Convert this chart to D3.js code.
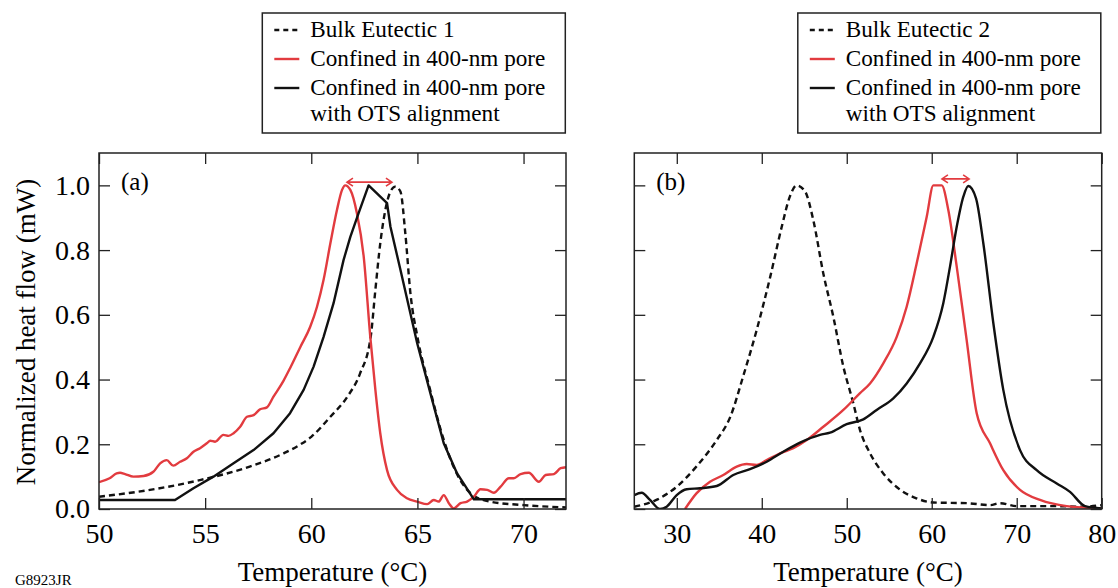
<!DOCTYPE html>
<html>
<head>
<meta charset="utf-8">
<script src="https://cdn.jsdelivr.net/npm/d3@7"></script>
<style>
  body { margin: 0; background: #fff; }
  svg text { font-family: "Times New Roman", Times, "Liberation Serif", "Nimbus Roman", "DejaVu Serif", serif; }
</style>
</head>
<body>
<svg id="chart" width="1118" height="588"></svg>
<script>
// ---- data: [temperature °C, normalized heat flow] ----
const bulkA = [[50,0.038],[52.4,0.059],[54.8,0.09],[57.1,0.131],[58.7,0.172],[59.5,0.2],[60,0.223],[60.9,0.285],
  [61.7,0.347],[62.3,0.419],[62.8,0.532],[63.02,0.677],[63.25,0.821],[63.49,0.924],[63.73,0.981],[63.96,0.996],
  [64.2,0.981],[64.43,0.852],[64.67,0.667],[65,0.532],[65.6,0.368],[66.1,0.244],[66.7,0.131],[67.5,0.049],
  [68.4,0.023],[70,0.012],[72,0.005]];
const poreA = [[50,0.083],[50.5,0.095],[50.83,0.11],[50.99,0.112],[51.23,0.108],[51.62,0.1],[52.1,0.102],[52.56,0.115],
  [52.88,0.141],[53.19,0.151],[53.5,0.134],[53.82,0.146],[54.14,0.157],[54.45,0.177],[54.76,0.188],[55.08,0.203],
  [55.24,0.211],[55.47,0.208],[55.86,0.229],[56.1,0.226],[56.34,0.234],[56.65,0.254],[56.97,0.285],[57.28,0.29],
  [57.59,0.308],[57.91,0.314],[58.22,0.347],[58.69,0.396],[59,0.435],[59.48,0.5],[59.95,0.563],[60.27,0.625],
  [60.58,0.708],[60.9,0.821],[61.21,0.924],[61.45,0.986],[61.6,1.0],[61.84,0.986],[62.15,0.914],[62.47,0.78],
  [62.78,0.532],[63.02,0.368],[63.25,0.234],[63.57,0.12],[64.04,0.059],[64.51,0.033],[64.99,0.023],[65.46,0.015],
  [65.77,0.028],[66,0.023],[66.24,0.043],[66.48,0.018],[66.71,0.002],[67.03,0.018],[67.34,0.023],[67.66,0.038],
  [67.97,0.061],[68.29,0.059],[68.6,0.05],[68.92,0.069],[69.31,0.095],[69.54,0.095],[69.86,0.108],[70.25,0.112],
  [70.72,0.084],[71.04,0.105],[71.43,0.108],[71.75,0.126],[72,0.129]];
const otsA = [[50,0.028],[53.58,0.028],[54.45,0.064],[55.39,0.1],[56.34,0.141],[57.28,0.182],[58.22,0.234],[59,0.296],
  [59.64,0.368],[60.11,0.44],[60.58,0.532],[61.05,0.636],[61.52,0.769],[61.84,0.841],[62.23,0.914],[62.7,1.0],
  [63.57,0.945],[63.73,0.872],[64.2,0.739],[64.99,0.512],[65.61,0.358],[66.24,0.203],[66.87,0.11],[67.66,0.03],[72,0.03]];

const bulkB = [[25,0.007],[27.6,0.028],[30,0.069],[32.3,0.131],[34.7,0.213],[36.3,0.285],[37.8,0.409],[39.4,0.553],
  [41,0.718],[42.35,0.872],[43.3,0.965],[44.1,1.0],[45.1,0.981],[46.06,0.893],[47.24,0.728],[48.42,0.594],[49.6,0.44],
  [50.77,0.327],[51.56,0.244],[52.74,0.172],[54.3,0.11],[56.3,0.059],[58.2,0.033],[60.2,0.02],[64.1,0.018],
  [66.9,0.012],[68,0.018],[70,0.009],[73.9,0.009],[77.8,0.007],[80,0.012]];
const poreB = [[30.97,0],[32.34,0.049],[33.91,0.084],[35.47,0.105],[37.05,0.131],[38.23,0.139],[39.4,0.136],[40.58,0.151],
  [42.15,0.172],[43.71,0.188],[45.29,0.213],[47.24,0.254],[49.6,0.306],[51.56,0.358],[52.74,0.388],[54.3,0.45],
  [55.88,0.532],[57.05,0.625],[58.23,0.759],[59.41,0.903],[60.19,1.0],[61.17,1.0],[61.95,0.924],[62.94,0.749],
  [64.11,0.522],[65.29,0.296],[66.86,0.203],[68.42,0.12],[70.39,0.059],[72.74,0.028],[75.88,0.009],[80,0.002]];
const otsB = [[25,0.043],[25.87,0.05],[26.85,0.028],[28.02,0],[28.81,0.007],[29.99,0.043],[31.17,0.061],[32.73,0.064],
  [34.7,0.071],[36.65,0.105],[38.61,0.123],[40.58,0.146],[42.53,0.177],[44.5,0.205],[46.85,0.229],[48.03,0.236],
  [49.99,0.262],[51.95,0.277],[53.52,0.306],[55.48,0.342],[57.05,0.388],[58.62,0.45],[60.19,0.532],[61.36,0.636],
  [62.15,0.749],[62.94,0.872],[63.72,0.965],[64.3,0.998],[65.21,0.96],[66.07,0.821],[67.25,0.574],[68.42,0.368],
  [70.39,0.182],[72.35,0.12],[74.71,0.079],[76.27,0.053],[78.03,0.009],[80,0.002]];

// peak-shift arrows [fromT, toT, level]
const arrowA = [61.68, 63.8, 1.01];
const arrowB = [61.2, 64.4, 1.02];

const xTicksA = [50, 55, 60, 65, 70];
const xTicksB = [30, 40, 50, 60, 70, 80];
const yTicks = [0, 0.2, 0.4, 0.6, 0.8, 1.0];
// each legend entry may wrap onto a second line
const legendA = [["Bulk Eutectic 1"], ["Confined in 400-nm pore"], ["Confined in 400-nm pore", "with OTS alignment"]];
const legendB = [["Bulk Eutectic 2"], ["Confined in 400-nm pore"], ["Confined in 400-nm pore", "with OTS alignment"]];

const RED = "#e23b3f";
const svg = d3.select("#chart");
const plotTop = 153, plotBottom = 509;

function panel(id, xDomain, xRange, xTicks, showY, series, arrow, tag) {
  const x = d3.scaleLinear().domain(xDomain).range(xRange);
  const y = d3.scaleLinear().domain([0, 1.1]).range([plotBottom, plotTop]);
  const g = svg.append("g");

  g.append("clipPath").attr("id", id)
    .append("rect").attr("x", xRange[0]).attr("y", plotTop)
    .attr("width", xRange[1] - xRange[0]).attr("height", plotBottom - plotTop);

  series.forEach(s => {
    const line = d3.line().x(d => x(d[0])).y(d => y(d[1]))
      .curve(s.sharp ? d3.curveLinear : d3.curveMonotoneX);
    g.append("path").datum(s.data)
      .attr("clip-path", `url(#${id})`)
      .attr("d", line)
      .attr("fill", "none")
      .attr("stroke", s.color)
      .attr("stroke-width", 2.4)
      .attr("stroke-linejoin", "round")
      .attr("stroke-dasharray", s.dash ? "6,4" : null);
  });

  // inward ticks on all four sides
  g.append("g").attr("transform", `translate(0,${plotBottom})`)
    .call(d3.axisBottom(x).tickValues(xTicks).tickSize(-11).tickPadding(14));
  g.append("g").attr("transform", `translate(0,${plotTop})`)
    .call(d3.axisTop(x).tickValues(xTicks).tickSize(-11).tickFormat(""));
  g.append("g").attr("transform", `translate(${xRange[0]},0)`)
    .call(d3.axisLeft(y).tickValues(yTicks).tickSize(-11).tickPadding(9)
      .tickFormat(showY ? d3.format(".1f") : ""));
  g.append("g").attr("transform", `translate(${xRange[1]},0)`)
    .call(d3.axisRight(y).tickValues(yTicks).tickSize(-11).tickFormat(""));
  g.selectAll(".domain").remove();
  g.selectAll("g").attr("font-family", null);
  g.selectAll(".tick line").attr("stroke", "#222").attr("stroke-width", 1.3);
  g.selectAll(".tick text").attr("font-size", 28).attr("fill", "#000");

  g.append("rect").attr("x", xRange[0]).attr("y", plotTop)
    .attr("width", xRange[1] - xRange[0]).attr("height", plotBottom - plotTop)
    .attr("fill", "none").attr("stroke", "#222").attr("stroke-width", 1.5);

  g.append("text").attr("x", xRange[0] + 22).attr("y", 190)
    .attr("font-size", 25).attr("fill", "#000").text(tag);

  // double-headed arrow between peaks
  const ax0 = x(arrow[0]), ax1 = x(arrow[1]), ay = y(arrow[2]);
  g.append("path")
    .attr("d", `M${ax0},${ay}H${ax1}M${ax0 + 6},${ay - 4}L${ax0},${ay}L${ax0 + 6},${ay + 4}` +
      `M${ax1 - 6},${ay - 4}L${ax1},${ay}L${ax1 - 6},${ay + 4}`)
    .attr("fill", "none").attr("stroke", RED).attr("stroke-width", 1.6);

  g.append("text").attr("x", (xRange[0] + xRange[1]) / 2).attr("y", 581)
    .attr("text-anchor", "middle").attr("font-size", 27).attr("fill", "#000")
    .text("Temperature (°C)");
}

function legend(bx, labels) {
  const g = svg.append("g").attr("transform", `translate(${bx},13)`);
  g.append("rect").attr("width", 303).attr("height", 120)
    .attr("fill", "#fff").attr("stroke", "#222").attr("stroke-width", 1.5);
  const rows = [
    { y: 17, color: "#111", dash: true },
    { y: 46, color: RED, dash: false },
    { y: 75, color: "#111", dash: false }
  ];
  rows.forEach((r, i) => {
    g.append("line").attr("x1", 12).attr("x2", 37).attr("y1", r.y).attr("y2", r.y)
      .attr("stroke", r.color).attr("stroke-width", 2.4)
      .attr("stroke-dasharray", r.dash ? "5,4" : null);
    const t = g.append("text").attr("x", 48).attr("y", r.y + 6.5)
      .attr("font-size", 23.2).attr("fill", "#000");
    labels[i].forEach((s, k) => {
      t.append("tspan").attr("x", 48).attr("dy", k === 0 ? 0 : 26).text(s);
    });
  });
}

panel("clipA", [50, 72], [99, 566], xTicksA, true, [
  { data: bulkA, color: "#111", dash: true },
  { data: poreA, color: RED, dash: false },
  { data: otsA, color: "#111", dash: false, sharp: true }
], arrowA, "(a)");

panel("clipB", [25, 80], [634.3, 1101.7], xTicksB, false, [
  { data: bulkB, color: "#111", dash: true },
  { data: poreB, color: RED, dash: false },
  { data: otsB, color: "#111", dash: false }
], arrowB, "(b)");

legend(262.3, legendA);
legend(797.8, legendB);

svg.append("text").attr("transform", "translate(35,332) rotate(-90)")
  .attr("text-anchor", "middle").attr("font-size", 27).attr("fill", "#000")
  .text("Normalized heat flow (mW)");

svg.append("text").attr("x", 15).attr("y", 585)
  .attr("font-size", 15).attr("fill", "#000").text("G8923JR");
</script>
</body>
</html>
